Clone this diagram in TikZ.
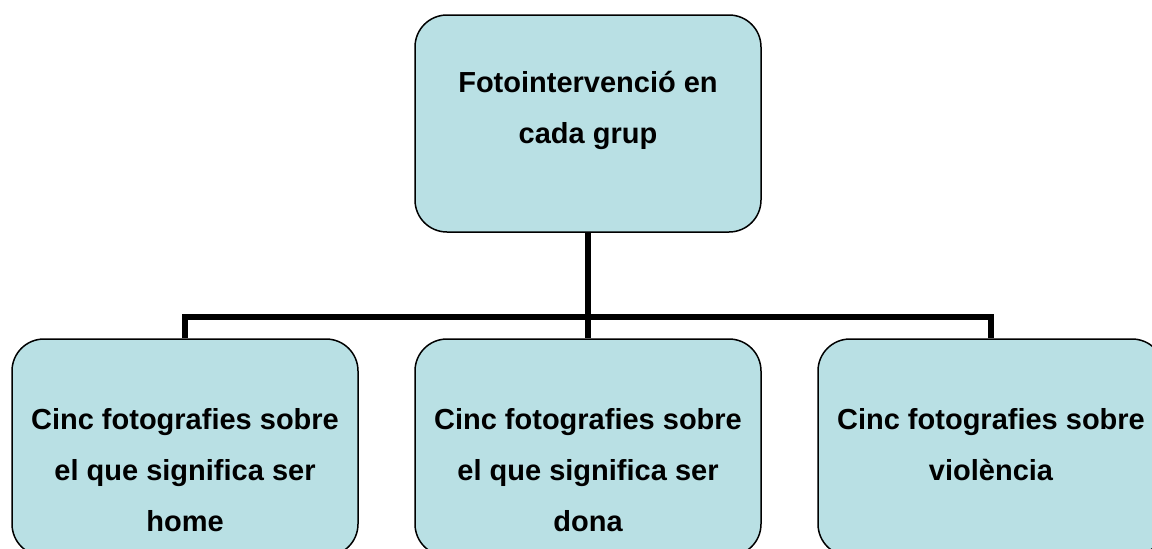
\documentclass[tikz,border=0pt]{standalone}
\usepackage{fontspec}
\setmainfont{Liberation Sans}
\definecolor{boxfill}{RGB}{185,224,228}
\tikzset{
  orgbox/.style={draw=black, line width=1.5pt, fill=boxfill, rounded corners=32pt,
    minimum width=346pt, minimum height=217pt, inner sep=0pt},
  boxtext/.style={anchor=base, align=center, inner sep=0pt,
    font=\fontsize{29pt}{51pt}\selectfont\bfseries},
  connector/.style={draw=black, line width=6pt, line join=miter}
}
\begin{document}
\begin{tikzpicture}[x=1pt,y=-1pt]
\useasboundingbox (0,0) rectangle (1152,549);
\clip (0,0) rectangle (1152,549);
\node[orgbox] (top) at (588,123.5) {};
\node[orgbox] (b1) at (185,447.5) {};
\node[orgbox] (b2) at (588,447.5) {};
\node[orgbox] (b3) at (991,447.5) {};
\coordinate (bus) at (588,317);
\draw[connector] (top.south) -- (b2.north);
\draw[connector] (b1.north) |- (bus) -| (b3.north);
\node[boxtext] (ttop) at (588,143.5) {Fotointervenció en\\cada grup};
\node[boxtext] (tb1) at (185,531.5) {Cinc fotografies sobre\\el que significa ser\\home};
\node[boxtext] (tb2) at (588,531.5) {Cinc fotografies sobre\\el que significa ser\\dona};
\node[boxtext] (tb3) at (991,480) {Cinc fotografies sobre\\violència};
\end{tikzpicture}
\end{document}
